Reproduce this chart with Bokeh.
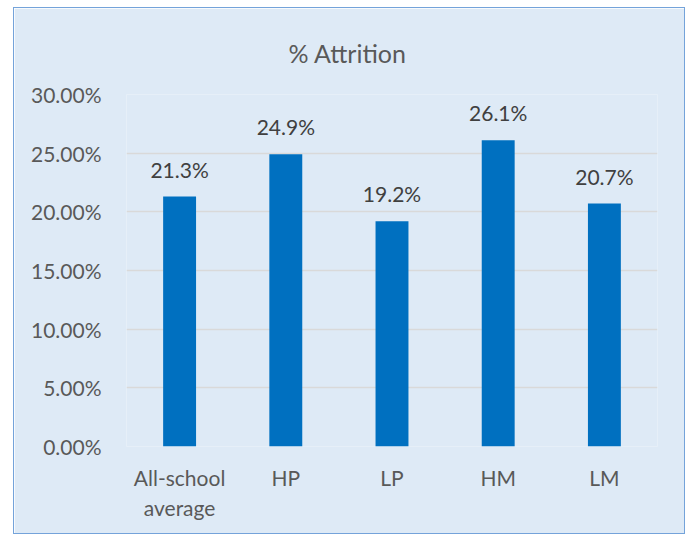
from bokeh.plotting import figure
from bokeh.models import ColumnDataSource, NumeralTickFormatter, FixedTicker
from bokeh.core.properties import value
from bokeh.embed import file_html
from bokeh.resources import INLINE

categories = ["All-school\naverage", "HP", "LP", "HM", "LM"]
attrition = [0.213, 0.249, 0.192, 0.261, 0.207]
labels = [f"{v*100:.1f}%" for v in attrition]
y_ticks = [0.0, 0.05, 0.10, 0.15, 0.20, 0.25, 0.30]
title_text = "% Attrition"

FONT = "Lato"
BG = "#DEEAF6"

src = ColumnDataSource(dict(cat=categories, val=attrition, lab=labels))

p = figure(x_range=categories, y_range=(0, 0.30), width=672, height=527,
           output_backend="svg", toolbar_location=None, title=title_text,
           min_border_left=112, min_border_right=29, min_border_top=86, min_border_bottom=89,
           background_fill_color=BG, border_fill_color=BG)
p.margin = (7, 0, 0, 13)
p.styles = {"border": "1.5px solid #74A3DA", "box-sizing": "border-box"}
p.outline_line_color = None

p.title.align = "left"
p.title.offset = 162
p.title.standoff = 54
p.title.text_font = FONT
p.title.text_font_size = "25px"
p.title.text_font_style = "normal"
p.title.text_color = "#595959"

p.vbar(x="cat", top="val", width=0.31, source=src, color="#0070C0", line_color=None)
p.text(x="cat", y="val", text="lab", source=src, text_align="center", text_baseline="bottom",
       y_offset=-15, text_font=value(FONT), text_font_size="21px", text_color="#404040")

p.yaxis.ticker = FixedTicker(ticks=y_ticks)
p.yaxis.formatter = NumeralTickFormatter(format="0.00%")
for ax in (p.xaxis[0], p.yaxis[0]):
    ax.axis_line_color = None
    ax.major_tick_line_color = None
    ax.minor_tick_line_color = None
    ax.major_label_text_font = FONT
    ax.major_label_text_font_size = "21px"
    ax.major_label_text_color = "#595959"
p.yaxis.major_label_standoff = 19
p.xaxis.major_label_standoff = 12

p.xgrid.grid_line_color = None
p.ygrid.grid_line_color = "#D9D9D9"
p.ygrid.grid_line_width = 1.5
p.ygrid.ticker = FixedTicker(ticks=y_ticks)
p.x_range.range_padding = 0

open("out.html", "w").write(file_html(p, INLINE))
